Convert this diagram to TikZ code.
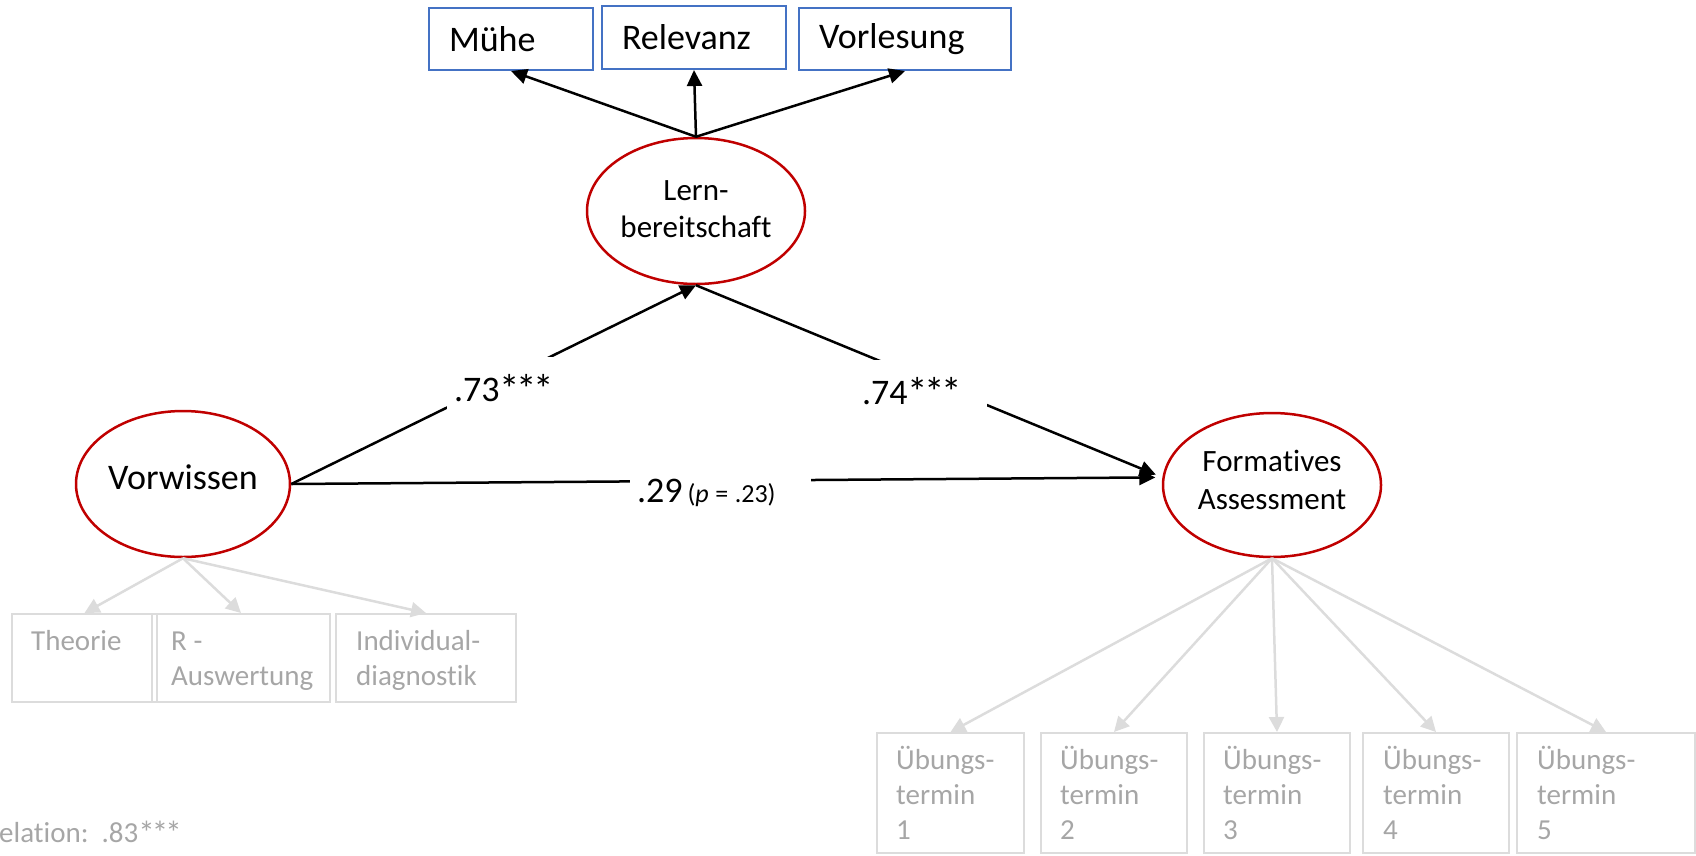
\documentclass[tikz,border=0pt]{standalone}
\usepackage{fontspec}
\setmainfont{Carlito}[Ligatures=NoCommon]
\usetikzlibrary{arrows.meta,shapes.geometric,calc}
\definecolor{boxblue}{HTML}{4472C4}
\definecolor{ellred}{HTML}{C00000}
\definecolor{lightline}{HTML}{DCDCDC}
\definecolor{graytext}{HTML}{A6A6A6}
\newcommand\sigstars{\raisebox{-2pt}{\fontsize{41}{46}\selectfont*\kern-3.5pt*\kern-3.5pt*}}
\begin{document}
\begin{tikzpicture}[x=1pt,y=-1pt,
  indbox/.style={draw=boxblue, line width=2pt, inner xsep=20pt, inner ysep=0pt, align=left, font=\fontsize{36}{43}\selectfont},
  latent/.style={ellipse, draw=ellred, line width=2.5pt, fill=white, inner sep=0pt, align=center},
  graybox/.style={draw=lightline, line width=2pt, inner sep=0pt},
  graylbl/.style={anchor=north west, inner sep=0pt, align=left, text=graytext, font=\fontsize{29}{35}\selectfont},
  conn/.style={line width=2.5pt, -{Triangle[length=16pt,width=15pt]}},
  grayconn/.style={draw=lightline, line width=2.5pt, -{Triangle[length=15pt,width=15pt]}},
  coef/.style={fill=white, inner xsep=7pt, inner ysep=0pt, minimum height=64pt, align=left, font=\fontsize{36}{43}\selectfont}
]
\useasboundingbox (0,0) rectangle (1696,855);

% indicator boxes (top)
\node[indbox, minimum height=62pt, text width=124pt] (muehe) at (511,39) {Mühe};
\node[indbox, minimum height=63pt, text width=144pt] (relevanz) at (694,37.5) {Relevanz};
\node[indbox, minimum height=62pt, text width=172pt] (vorlesung) at (905,39) {Vorlesung};

% gray indicator boxes (left)
\node[graybox, minimum width=145pt, minimum height=88pt] (theorie) at (84.5,658) {};
\node[graybox, minimum width=178pt, minimum height=88pt] (rausw) at (241,658) {};
\node[graybox, minimum width=180pt, minimum height=88pt] (indiv) at (426,658) {};
\node[graylbl] (theorieT) at ($(theorie.north west)+(20,12.5)$) {\strut Theorie};
\node[graylbl] (rauswT) at ($(rausw.north west)+(20,12.5)$) {\strut R -\\Auswertung};
\node[graylbl] (indivT) at ($(indiv.north west)+(21,12.5)$) {\strut Individual-\\diagnostik};

% gray indicator boxes (right)
\node[graybox, minimum width=147pt, minimum height=120pt] (u1) at (950.5,793) {};
\node[graybox, minimum width=146pt, minimum height=120pt] (u2) at (1114,793) {};
\node[graybox, minimum width=146pt, minimum height=120pt] (u3) at (1277,793) {};
\node[graybox, minimum width=146pt, minimum height=120pt] (u4) at (1436,793) {};
\node[graybox, minimum width=178pt, minimum height=120pt] (u5) at (1606,793) {};
\node[graylbl] (u1T) at ($(u1.north west)+(20,12.5)$) {\strut Übungs-\\termin\\1};
\node[graylbl] (u2T) at ($(u2.north west)+(20,12.5)$) {\strut Übungs-\\termin\\2};
\node[graylbl] (u3T) at ($(u3.north west)+(20,12.5)$) {\strut Übungs-\\termin\\3};
\node[graylbl] (u4T) at ($(u4.north west)+(21,12.5)$) {\strut Übungs-\\termin\\4};
\node[graylbl] (u5T) at ($(u5.north west)+(21,12.5)$) {\strut Übungs-\\termin\\5};

% latent variables
\node[latent, minimum width=218pt, minimum height=146pt, font=\fontsize{31}{37.5}\selectfont, text depth=4pt] (lern) at (696,211) {Lern-\\bereitschaft};
\node[latent, minimum width=214pt, minimum height=146pt, font=\fontsize{36}{43}\selectfont, text depth=14pt] (vorwissen) at (183,484) {Vorwissen};
\node[latent, minimum width=218pt, minimum height=144pt, font=\fontsize{31}{37.5}\selectfont, text depth=10pt] (formatives) at (1272,485) {Formatives\\Assessment};

% gray connectors
\draw[grayconn] (vorwissen.south) -- (theorie.north);
\draw[grayconn] (vorwissen.south) -- (rausw.north);
\draw[grayconn] (vorwissen.south) -- (indiv.north);
\draw[grayconn] (formatives.south) -- (u1.north);
\draw[grayconn] (formatives.south) -- (u2.north);
\draw[grayconn] (formatives.south) -- (u3.north);
\draw[grayconn] (formatives.south) -- (u4.north);
\draw[grayconn] (formatives.south) -- (u5.north);

% black connectors
\draw[conn] (lern.north) -- (muehe.south);
\draw[conn] (lern.north) -- (relevanz.south);
\draw[conn] (lern.north) -- (vorlesung.south);
\draw[conn] (vorwissen.east) -- (lern.south);
\draw[conn, shorten >=7pt] (lern.south) -- (formatives.176);
\draw[conn, shorten >=7pt] (vorwissen.east) -- (formatives.176);

% coefficients
\node[coef, text width=100pt] (c73) at (504,389) {.73\sigstars};
\node[coef, text width=118pt] (c74) at (921,392) {.74\sigstars};
\node[coef, text width=167pt] (c29) at (720.5,493) {.29\hspace{5pt}{\fontsize{26}{31}\selectfont(\textit{p}\hspace{0.25em}=\hspace{0.25em}.23)}};

% bottom note
\node[anchor=base west, inner sep=0pt, text=graytext, font=\fontsize{29}{35}\selectfont] (korr) at (-1,842) {elation:\ \ .83\raisebox{-2pt}{\fontsize{33}{40}\selectfont*\kern-3pt*\kern-3pt*}};
\end{tikzpicture}
\end{document}
